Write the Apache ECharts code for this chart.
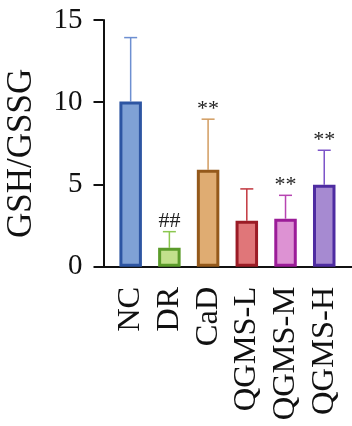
<!DOCTYPE html>
<html>
<head>
<meta charset="utf-8">
<style>
  html, body { margin: 0; padding: 0; background: #fff; }
  #chart { width: 352px; height: 426px; }
</style>
<script src="https://cdn.jsdelivr.net/npm/echarts@6/dist/echarts.min.js"></script>
</head>
<body>
<div id="chart"></div>
<script>
var groups = ['NC', 'DR', 'CaD', 'QGMS-L', 'QGMS-M', 'QGMS-H'];
var means = [10.05, 1.15, 5.9, 2.8, 2.92, 4.98];
var sds = [3.88, 0.98, 3.07, 1.93, 1.42, 2.1];
var marks = ['', '##', '**', '', '**', '**'];
var yTicks = [0, 5, 10, 15];

var fills = ['#7fa1d5', '#c2e08b', '#dfac72', '#e07679', '#dd92d3', '#a68ad1'];
var borders = ['#2d55a2', '#5b9b2a', '#94591b', '#9b1c26', '#9b1c98', '#4e2ca1'];
var whiskers = ['#6d8fd1', '#8cc750', '#d29c60', '#c2363f', '#b744b1', '#7c54c9'];

var font = '"Liberation Serif", "Times New Roman", serif';

var chart = echarts.init(document.getElementById('chart'));

// grid 0 holds the bars, grid 1 only draws the longer axis frame
chart.setOption({
    animation: false,
    grid: [
        { left: 111.3, right: 8.4, top: 20, bottom: 159.3, outerBoundsMode: 'none', containLabel: false },
        { left: 103.5, right: 0, top: 20, bottom: 159.3, outerBoundsMode: 'none', containLabel: false }
    ],
    xAxis: [{
        type: 'category',
        data: groups,
        axisLine: { lineStyle: { color: '#111', width: 2 } },
        axisTick: { alignWithLabel: true, length: 8, lineStyle: { color: '#111', width: 2 } },
        axisLabel: { interval: 0, rotate: 90, margin: 20, color: '#111', fontFamily: font, fontSize: 32.5 }
    }, {
        gridIndex: 1,
        type: 'value',
        axisLine: { show: true, onZero: false, lineStyle: { color: '#111', width: 2 } },
        axisTick: { show: false },
        axisLabel: { show: false },
        splitLine: { show: false }
    }],
    yAxis: [{
        type: 'value',
        min: 0,
        max: 15,
        show: false
    }, {
        gridIndex: 1,
        type: 'value',
        min: 0,
        max: 15,
        interval: 5,
        name: 'GSH/GSSG',
        nameLocation: 'middle',
        nameGap: 64,
        nameTextStyle: { color: '#111', fontFamily: font, fontSize: 35, padding: [0, 20, 0, 0] },
        axisLine: { show: true, lineStyle: { color: '#111', width: 2 } },
        axisTick: { show: true, length: 10, lineStyle: { color: '#111', width: 2 } },
        axisLabel: {
            margin: 21, color: '#111', fontFamily: font, fontSize: 29,
            formatter: function (v) { return yTicks.indexOf(v) >= 0 ? String(v) : ''; }
        },
        splitLine: { show: false }
    }],
    series: [{
        type: 'custom',
        z: 1,
        data: means.map(function (m, i) { return [i, m, sds[i]]; }),
        renderItem: function (params, api) {
            var i = api.value(0);
            var base = api.coord([i, api.value(1)]);
            var top = api.coord([i, api.value(1) + api.value(2)]);
            var st = { stroke: whiskers[i], lineWidth: 1.5 };
            var kids = [
                { type: 'line', shape: { x1: base[0], y1: base[1], x2: top[0], y2: top[1] }, style: st },
                { type: 'line', shape: { x1: top[0] - 6.5, y1: top[1], x2: top[0] + 6.5, y2: top[1] }, style: st }
            ];
            if (marks[i]) {
                kids.push({
                    type: 'text',
                    style: {
                        text: marks[i], x: top[0], y: top[1] + 1,
                        align: 'center', verticalAlign: 'bottom',
                        fill: '#222', font: '22px ' + font
                    }
                });
            }
            return { type: 'group', children: kids };
        }
    }, {
        type: 'bar',
        z: 2,
        barWidth: 22.5,
        data: means.map(function (m, i) {
            return { value: m, itemStyle: { color: fills[i], borderColor: borders[i], borderWidth: 3 } };
        })
    }]
});
</script>
</body>
</html>
